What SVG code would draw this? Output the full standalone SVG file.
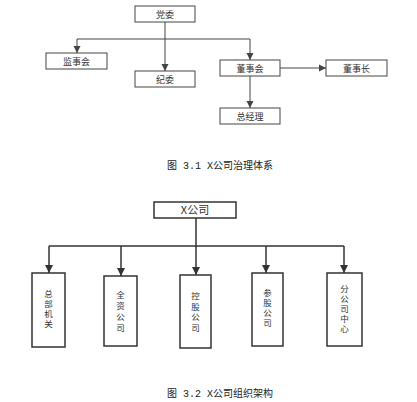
<svg xmlns="http://www.w3.org/2000/svg" width="417" height="402" viewBox="0 0 417 402">
<defs>
<style>
.b1{fill:#fff;stroke:#444;stroke-width:1}
.b2{fill:#fff;stroke:#333;stroke-width:1.5}
.c1{fill:none;stroke:#444;stroke-width:1}
.c2{fill:none;stroke:#333;stroke-width:1.5}
.t{font-family:"Noto Sans CJK SC",sans-serif;font-size:9px;fill:#333;text-anchor:middle}
.tv{font-family:"Noto Sans CJK SC",sans-serif;font-size:8.5px;fill:#333;writing-mode:vertical-rl;text-orientation:upright}
.cap{font-family:"Liberation Mono","Noto Sans CJK SC",monospace;font-size:10px;fill:#222;text-anchor:middle}
</style>
<marker id="a1" markerWidth="8" markerHeight="8" refX="7" refY="4" orient="auto" markerUnits="userSpaceOnUse">
<path d="M0,0.5 L7,4 L0,7.5 Z" fill="#444"/>
</marker>
<marker id="a2" markerWidth="10" markerHeight="10" refX="8" refY="5" orient="auto" markerUnits="userSpaceOnUse">
<path d="M0,1 L8,5 L0,9 Z" fill="#333"/>
</marker>
</defs>
<rect width="417" height="402" fill="#fff"/>
<g id="connectors">
<path class="c1" d="M165,22 V39 M77,39 H250"/>
<path class="c1" d="M77,39 V53" marker-end="url(#a1)"/>
<path class="c1" d="M165,39 V71" marker-end="url(#a1)"/>
<path class="c1" d="M250,39 V60" marker-end="url(#a1)"/>
<path class="c1" d="M280,68 H326" marker-end="url(#a1)"/>
<path class="c1" d="M250,76 V108" marker-end="url(#a1)"/>
<path class="c2" d="M196,218 V246 M49,246 H344"/>
<path class="c2" d="M49,246 V273" marker-end="url(#a2)"/>
<path class="c2" d="M121,246 V276" marker-end="url(#a2)"/>
<path class="c2" d="M196,246 V275" marker-end="url(#a2)"/>
<path class="c2" d="M266,246 V273" marker-end="url(#a2)"/>
<path class="c2" d="M344,246 V273" marker-end="url(#a2)"/>
</g>
<g id="dangwei"><rect class="b1" x="135" y="6" width="60" height="16"/><text class="t" x="165" y="17.5">党委</text></g>
<g id="jianshihui"><rect class="b1" x="46" y="53" width="61" height="16"/><text class="t" x="76.5" y="64.5">监事会</text></g>
<g id="jiwei"><rect class="b1" x="135" y="71" width="60" height="16"/><text class="t" x="165" y="82.5">纪委</text></g>
<g id="dongshihui"><rect class="b1" x="220" y="60" width="60" height="16"/><text class="t" x="250" y="71.5">董事会</text></g>
<g id="dongshizhang"><rect class="b1" x="326" y="60" width="61" height="16"/><text class="t" x="356.5" y="71.5">董事长</text></g>
<g id="zongjingli"><rect class="b1" x="220" y="108" width="60" height="16"/><text class="t" x="250" y="119.5">总经理</text></g>
<text class="cap" x="220" y="168.5">图 3.1 X公司治理体系</text>
<g id="xgongsi"><rect class="b2" x="154" y="202" width="82" height="16"/><text class="t" x="195" y="214" style="font-size:11px">X公司</text></g>
<g id="zongbu"><rect class="b2" x="32" y="273" width="33" height="74"/>
<text class="tv" x="48.5" y="289.75" letter-spacing="1.5">总部机关</text></g>
<g id="quanzi"><rect class="b2" x="104" y="276" width="33" height="70"/>
<text class="tv" x="120.5" y="290.25" letter-spacing="2.5">全资公司</text></g>
<g id="konggu"><rect class="b2" x="180" y="275" width="31" height="73"/>
<text class="tv" x="195.5" y="291.75" letter-spacing="2">控股公司</text></g>
<g id="cangu"><rect class="b2" x="252" y="273" width="31" height="73"/>
<text class="tv" x="267.5" y="288.75" letter-spacing="1.5">参股公司</text></g>
<g id="fengongsi"><rect class="b2" x="327" y="273" width="35" height="73"/>
<text class="tv" x="344.5" y="284.75" letter-spacing="1.5">分公司中心</text></g>
<text class="cap" x="220" y="396.5">图 3.2 X公司组织架构</text>
</svg>
